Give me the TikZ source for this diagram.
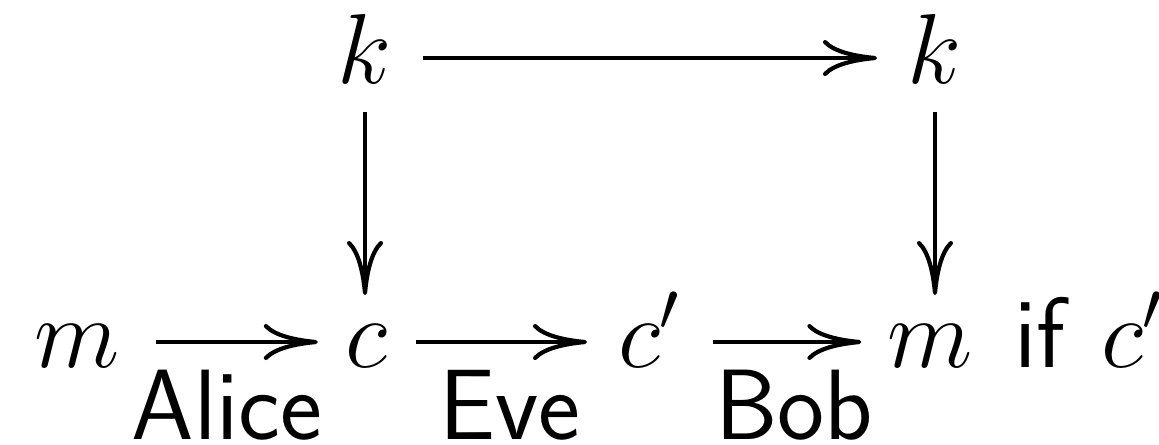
\documentclass[tikz,border=0pt]{standalone}
\usetikzlibrary{arrows.meta}
\begin{document}
\begin{tikzpicture}[x=0.25pt,y=-0.25pt,
  every node/.style={inner sep=0pt, outer sep=0pt, font=\fontsize{25}{30}\selectfont},
  sym/.style={anchor=base, text height=17.5pt, text depth=5pt},
  lbl/.style={anchor=base, font=\fontsize{25}{30}\selectfont\sffamily},
  arr/.style={line width=1.05pt, -{Computer Modern Rightarrow[length=13.5pt,width=9pt]}}]
\useasboundingbox (0,0) rectangle (1159,444);
\node[sym] (k1) at (365,83) {$k$};
\node[sym] (k2) at (935,83) {$k$};
\node[sym] (m1) at (77,367) {$m$};
\node[sym] (c) at (366,367) {$c$};
\node[sym, anchor=base west] (cp) at (618,367) {$c'$};
\node[sym] (m2) at (930,367) {$m$};
\node[lbl] (if) at (1040,367) {if};
\node[sym, anchor=base west] (cpp) at (1101,367) {$c'$};
\node[lbl] (alice) at (227,439) {Alice};
\node[lbl] (eve) at (510,439) {Eve};
\node[lbl] (bob) at (794,439) {Bob};
\draw[arr, shorten <=7.75pt, shorten >=7.75pt] (k1) -- (k2);
\draw[arr, shorten <=2.25pt, shorten >=0.5pt] (k1) -- (k1 |- c.north);
\draw[arr, shorten <=2.25pt, shorten >=0.5pt] (k2) -- (k2 |- m2.north);
\draw[arr, shorten <=9pt, shorten >=6.8pt] (m1) -- (c);
\draw[arr, shorten <=7.3pt, shorten >=7.75pt] (c) -- (cp);
\draw[arr, shorten <=8pt, shorten >=6.5pt] (cp) -- (m2);
\end{tikzpicture}
\end{document}
